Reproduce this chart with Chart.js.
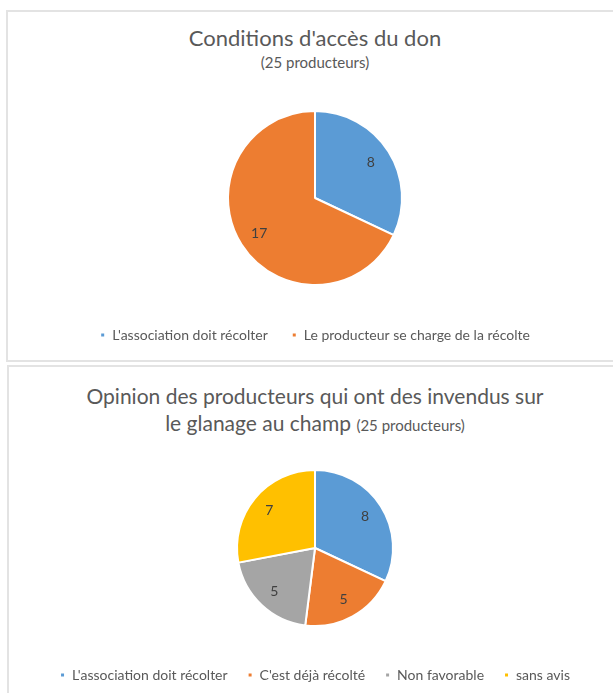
<!DOCTYPE html>
<html>
<head>
<meta charset="utf-8">
<script src="https://cdn.jsdelivr.net/npm/chart.js@4"></script>
<style>
  body { margin: 0; background: #fff; width: 613px; height: 693px; overflow: hidden; position: relative; font-family: Lato, sans-serif; }
  .box { position: absolute; border: 2px solid #e3e3e3; background: #fff; }
  .title { position: absolute; left: 0; width: 630px; text-align: center; color: #595959; font-size: 21px; line-height: 27px; }
  .sub { font-size: 15px; }
  canvas { position: absolute; left: 0; }
</style>
</head>
<body>
<div class="box" style="left:6px; top:10px; width:640px; height:348px;"></div>
<div class="box" style="left:7px; top:365px; width:640px; height:340px;"></div>

<div class="title" style="top:24px; font-size:22px;">Conditions d'accès du don</div>
<div class="title sub" style="top:53px; line-height:18px;">(25 producteurs)</div>
<div class="title" style="top:382px;">Opinion des producteurs qui ont des invendus sur<br>le glanage au champ <span class="sub">(25 producteurs)</span></div>

<canvas id="acces-chart" width="613" height="362" style="top:0;"></canvas>
<canvas id="opinion-chart" width="613" height="327" style="top:366px;"></canvas>

<script>
// Conditions d'accès du don
const accesLabels = ["L'association doit récolter", "Le producteur se charge de la récolte"];
const accesValues = [8, 17];
const accesColors = ['#5b9bd5', '#ed7d31'];

// Opinion sur le glanage au champ
const opinionLabels = ["L'association doit récolter", "C'est déjà récolté", "Non favorable", "sans avis"];
const opinionValues = [8, 5, 5, 7];
const opinionColors = ['#5b9bd5', '#ed7d31', '#a5a5a5', '#ffc000'];

// numbers inside the slices
const valueLabels = {
    id: 'valueLabels',
    afterDatasetsDraw(chart) {
        const ctx = chart.ctx;
        const values = chart.data.datasets[0].data;
        chart.getDatasetMeta(0).data.forEach((arc, i) => {
            const p = arc.getProps(['x', 'y', 'startAngle', 'endAngle', 'outerRadius'], true);
            const mid = (p.startAngle + p.endAngle) / 2;
            const r = p.outerRadius * 0.76;
            ctx.save();
            ctx.font = '14px Lato';
            ctx.fillStyle = '#404040';
            ctx.textAlign = 'center';
            ctx.textBaseline = 'middle';
            ctx.fillText(String(values[i]), p.x + Math.cos(mid) * r, p.y + Math.sin(mid) * r);
            ctx.restore();
        });
    }
};

const makePie = (canvasId, labels, values, colors, radius, padding, legendPadding) => {
    return new Chart(document.getElementById(canvasId).getContext('2d'), {
        type: 'pie',
        data: {
            labels: labels,
            datasets: [{
                data: values,
                backgroundColor: colors,
                borderColor: '#ffffff',
                borderWidth: 2,
                radius: radius
            }]
        },
        options: {
            responsive: false,
            animation: false,
            layout: { padding: padding },
            plugins: {
                tooltip: { enabled: false },
                legend: {
                    position: 'bottom',
                    labels: {
                        boxWidth: 5,
                        boxHeight: 5,
                        padding: legendPadding,
                        color: '#595959',
                        font: { family: 'Lato', size: 14 }
                    }
                }
            }
        },
        plugins: [valueLabels]
    });
};

makePie('acces-chart', accesLabels, accesValues, accesColors, 87,
    { top: 92, bottom: 10, left: 17, right: 0 }, 24);
makePie('opinion-chart', opinionLabels, opinionValues, opinionColors, 78,
    { top: 82, bottom: 1, left: 17, right: 0 }, 20);
</script>
</body>
</html>
